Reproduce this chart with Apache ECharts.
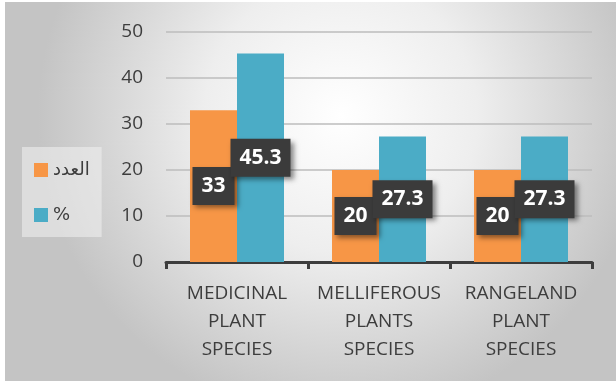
<!DOCTYPE html>
<html>
<head>
<meta charset="utf-8">
<script src="https://cdn.jsdelivr.net/npm/echarts@6/dist/echarts.min.js"></script>
<style>
  html, body { margin: 0; padding: 0; background: #ffffff; }
  #chart { width: 616px; height: 384px; }
</style>
</head>
<body>
<div id="chart"></div>
<script>
// Plant species groups and their counts / shares
const categories = ['MEDICINAL\nPLANT\nSPECIES', 'MELLIFEROUS\nPLANTS\nSPECIES', 'RANGELAND\nPLANT\nSPECIES'];
const countValues = [33, 20, 20];
const percentValues = [45.3, 27.3, 27.3];
const seriesNames = ['العدد', '%'];
const yTicks = { min: 0, max: 50, interval: 10 };

const textColor = '#3d3d3d';
const baseFont = 'Open Sans, Noto Sans, DejaVu Sans, sans-serif';

const chart = echarts.init(document.getElementById('chart'), null, { renderer: 'canvas' });

const dataLabel = {
  show: true,
  position: 'inside',
  color: '#ffffff',
  fontFamily: baseFont,
  fontWeight: 'bold',
  fontSize: 21,
  backgroundColor: '#3b3b3b',
  padding: [9, 9, 8, 9],
  shadowColor: 'rgba(0,0,0,0.45)',
  shadowBlur: 5,
  shadowOffsetX: 3,
  shadowOffsetY: 3
};

chart.setOption({
  animation: false,
  graphic: [{
    type: 'rect',
    z: -10,
    silent: true,
    shape: { x: 5, y: 2, width: 611, height: 379 },
    style: {
      fill: {
        type: 'radial', x: 0.55, y: 0.3, r: 0.8,
        colorStops: [
          { offset: 0, color: '#ffffff' },
          { offset: 0.45, color: '#eeeeee' },
          { offset: 1, color: '#c4c4c4' }
        ]
      }
    }
  }],
  grid: { left: 166, right: 24, top: 32, bottom: 122, containLabel: false },
  legend: {
    orient: 'vertical',
    left: 22,
    top: 147,
    padding: [13, 12, 12, 12],
    itemGap: 25,
    itemWidth: 14,
    itemHeight: 14,
    icon: 'rect',
    backgroundColor: 'rgba(238,238,238,0.6)',
    textStyle: { color: textColor, fontSize: 18, lineHeight: 20, fontFamily: 'DejaVu Sans, sans-serif' },
    data: seriesNames
  },
  xAxis: {
    type: 'category',
    data: categories,
    axisLine: { lineStyle: { color: textColor, width: 3 } },
    axisTick: { show: true, length: 7, lineStyle: { color: textColor, width: 3 } },
    axisLabel: {
      color: textColor, fontSize: 19, fontFamily: baseFont, lineHeight: 28, margin: 18,
      interval: 0, hideOverlap: false
    }
  },
  yAxis: {
    type: 'value',
    min: yTicks.min,
    max: yTicks.max,
    interval: yTicks.interval,
    axisLine: { show: false },
    axisTick: { show: false },
    axisLabel: { color: textColor, fontSize: 19, fontFamily: baseFont, margin: 23 },
    splitLine: { lineStyle: { color: '#bdbdbd', width: 1.5 } }
  },
  series: [
    {
      name: seriesNames[0],
      type: 'bar',
      data: countValues,
      barWidth: 47,
      barGap: '0%',
      itemStyle: { color: '#f79646' },
      label: dataLabel
    },
    {
      name: seriesNames[1],
      type: 'bar',
      data: percentValues,
      barWidth: 47,
      itemStyle: { color: '#4bacc6' },
      label: dataLabel
    }
  ]
});
</script>
</body>
</html>
